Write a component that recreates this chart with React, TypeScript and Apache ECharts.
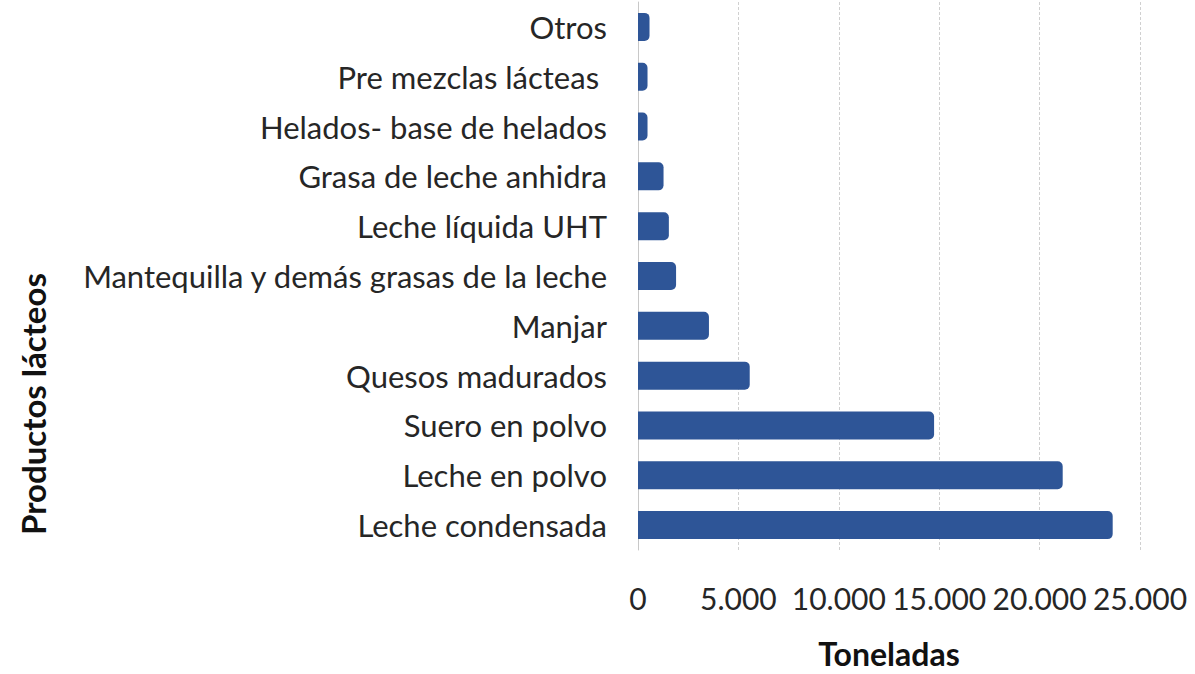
import React, { useEffect, useRef } from "react";
import * as echarts from "echarts";

const categories = [
  "Leche condensada",
  "Leche en polvo",
  "Suero en polvo",
  "Quesos madurados",
  "Manjar",
  "Mantequilla y demás grasas de la leche",
  "Leche líquida UHT",
  "Grasa de leche anhidra",
  "Helados- base de helados",
  "Pre mezclas lácteas ",
  "Otros",
];

const toneladas = [23640, 21150, 14745, 5564, 3533, 1896, 1537, 1272, 474, 474, 574];

const xTicks = { min: 0, max: 25000, interval: 5000 };

const xAxisTitle = "Toneladas";
const yAxisTitle = "Productos lácteos";

const FONT = "Lato, 'Open Sans', sans-serif";

function fmt(v: number): string {
  return String(Math.round(v)).replace(/\B(?=(\d{3})+(?!\d))/g, ".");
}

export default function App() {
  const ref = useRef<HTMLDivElement>(null);

  useEffect(() => {
    if (!ref.current) return;
    const chart = echarts.init(ref.current, undefined, { renderer: "svg" });
    chart.setOption({
      animation: false,
      backgroundColor: "#ffffff",
      grid: { left: 638, right: 55, top: 2, bottom: 118, containLabel: false },
      xAxis: {
        type: "value",
        min: xTicks.min,
        max: xTicks.max,
        interval: xTicks.interval,
        name: xAxisTitle,
        nameLocation: "middle",
        nameGap: 87,
        nameTextStyle: { fontFamily: FONT, fontSize: 32, fontWeight: "bold", color: "#111" },
        axisLine: { show: false },
        axisTick: { show: false },
        axisLabel: {
          formatter: (v: number) => fmt(v),
          fontFamily: FONT,
          fontSize: 30,
          color: "#262626",
          margin: 33,
        },
        splitLine: { show: true, lineStyle: { color: "#d0d0d0", width: 1, type: [3, 2] } },
      },
      yAxis: {
        type: "category",
        data: categories,
        axisTick: { show: false },
        axisLine: { show: true, lineStyle: { color: "#c8c8c8", width: 1 } },
        axisLabel: {
          fontFamily: FONT,
          fontSize: 31,
          color: "#262626",
          margin: 31,
          interval: 0,
        },
      },
      graphic: [
        {
          type: "text",
          x: 33,
          y: 404,
          rotation: Math.PI / 2,
          style: {
            text: yAxisTitle,
            font: `bold 33px ${FONT}`,
            fill: "#111",
            textAlign: "center",
            textVerticalAlign: "middle",
          },
        },
      ],
      series: [
        {
          type: "bar",
          data: toneladas,
          barWidth: 28,
          itemStyle: { color: "#2E5597", borderRadius: [0, 5, 5, 0] },
        },
      ],
    });
    return () => chart.dispose();
  }, []);

  return (
    <div
      ref={ref}
      style={{ position: "absolute", left: 0, top: 0, width: 1195, height: 674 }}
    />
  );
}
